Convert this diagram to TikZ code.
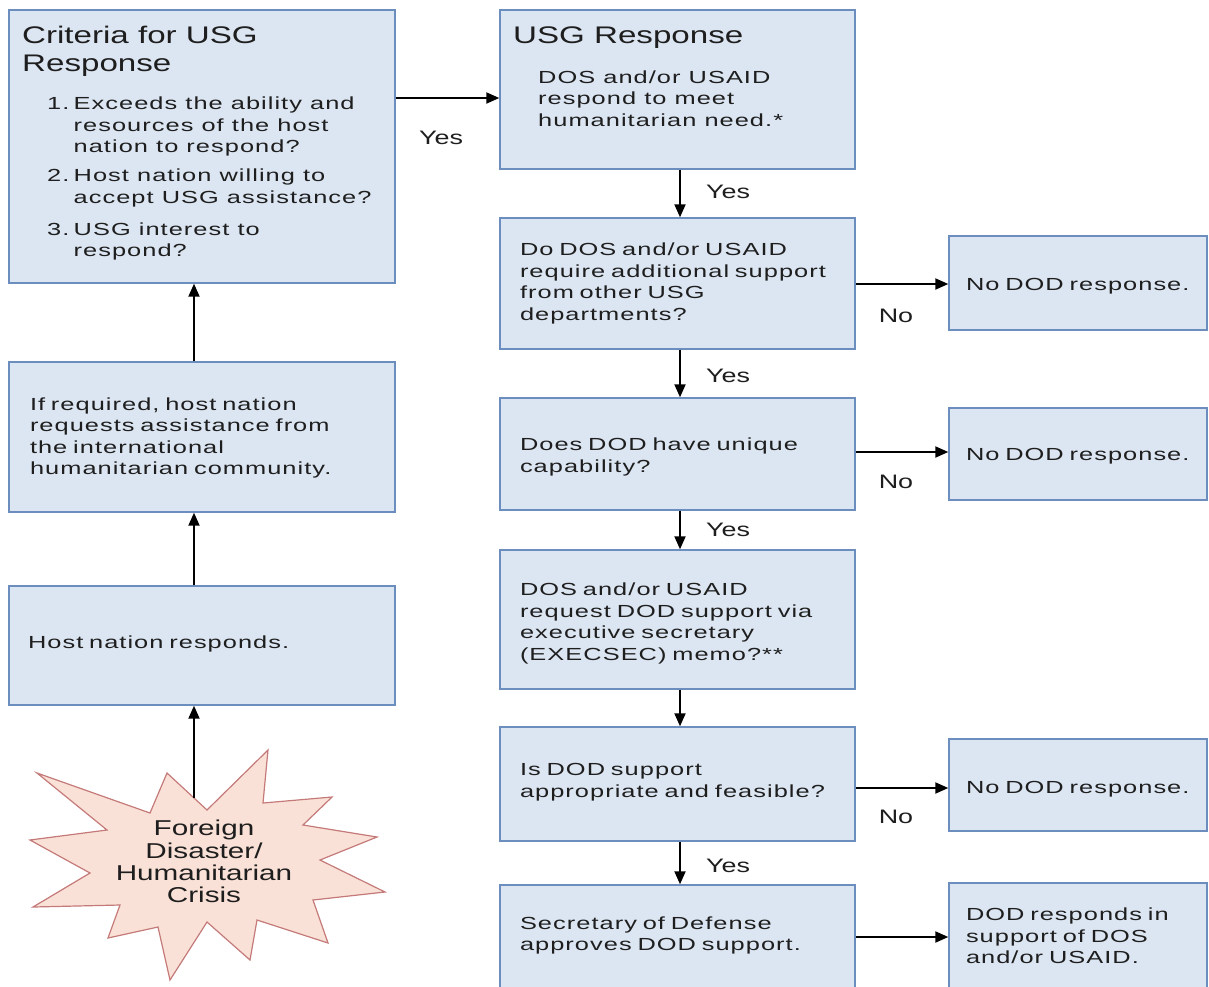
\documentclass[tikz,border=0pt]{standalone}
\usepackage{fontspec}
\setmainfont{Liberation Sans}
\newfontfamily\bodyfont{Liberation Sans}[FakeStretch=1.45,LetterSpace=6]
\newfontfamily\headfont{Liberation Sans}[FakeStretch=1.38]
\usetikzlibrary{arrows.meta}
\definecolor{boxfill}{HTML}{DCE6F2}
\definecolor{boxline}{HTML}{6C8EBF}
\definecolor{burstfill}{HTML}{FAE1D7}
\definecolor{burstline}{HTML}{C47A78}
\definecolor{ink}{HTML}{1E1E1E}
% optional argument: how far (pt) the text block is moved down inside its box
\newcommand\txtblock[2][0pt]{\raisebox{-#1}[\height][\depth]{\begin{tabular}{@{}l@{}}#2\end{tabular}}}
\begin{document}
\begin{tikzpicture}[x=1pt,y=-1pt,
  box/.style={draw=boxline, fill=boxfill, line width=1.4pt, align=left, inner ysep=0pt,
    text=ink, font=\bodyfont\fontsize{17.5}{21.5}\selectfont},
  leftbox/.style={box, minimum width=386pt},
  rightbox/.style={box, minimum width=355pt, inner xsep=20pt, text width=315pt},
  sidebox/.style={box, minimum width=258pt, inner xsep=17pt, text width=224pt},
  arr/.style={line width=2pt, draw=black, -{Triangle[length=13pt,width=11pt]}},
  lbl/.style={text=ink, font=\headfont\fontsize{19.5}{22}\selectfont, inner sep=0pt},
  body/.style={text=ink, font=\bodyfont\fontsize{17.5}{21.5}\selectfont, inner sep=0pt, align=left},
  head/.style={text=ink, font=\headfont\fontsize{24}{27.5}\selectfont, inner sep=0pt, align=left},
]
\useasboundingbox (0,0) rectangle (1209,986);

% ---------- left column ----------
\node[leftbox, minimum height=273pt] (crit) at (202,146.5) {};
\node[head, anchor=north west] (crittitle) at (22,26) {Criteria for USG\\Response};
\node[body, anchor=north west] (critlist) at (47,94.3) {\begin{tabular}{@{}l@{}l@{}}
\makebox[26.5pt][l]{1.} & Exceeds the ability and\\
 & resources of the host\\
 & nation to respond?\\[7.5pt]
2. & Host nation willing to\\
 & accept USG assistance?\\[10.5pt]
3. & USG interest to\\
 & respond?
\end{tabular}};

\node[leftbox, minimum height=150pt, inner xsep=21pt, text width=344pt] (req) at (202,437)
  {\txtblock[1pt]{If required, host nation\\requests assistance from\\the international\\humanitarian community.}};
\node[leftbox, minimum height=119pt, inner xsep=19pt, text width=348pt] (host) at (202,645.5)
  {\txtblock[-1pt]{Host nation responds.}};

% starburst
\draw[draw=burstline, fill=burstfill, line width=1.2pt, line join=miter]
  (37,773) -- (150,813) -- (167,773) -- (207,810) -- (268,750) -- (263,803) -- (332,797)
  -- (303,825) -- (377,837) -- (320,860) -- (385,892) -- (313,900) -- (328,943)
  -- (257,920) -- (250,960) -- (207,922) -- (170,980) -- (158,927) -- (108,938)
  -- (120,905) -- (33,907) -- (90,873) -- (30,840) -- (107,830) -- cycle;
\node[text=ink, font=\headfont\fontsize{21.5}{22.3}\selectfont, align=center, inner sep=0pt]
  (burst) at (204,861.5) {Foreign\\Disaster/\\Humanitarian\\Crisis};
\coordinate (bursttop) at (194,798);

% ---------- right column ----------
\node[box, minimum width=355pt, minimum height=159pt] (usg) at (677.5,89.5) {};
\node[head, anchor=base west] (usgtitle) at (513,43.3) {USG Response};
\node[body, anchor=west] (usgtext) at (538,100.5)
  {\txtblock{DOS and/or USAID\\respond to meet\\humanitarian need.*}};

\node[rightbox, minimum height=131pt] (q1) at (677.5,283.5)
  {\txtblock{Do DOS and/or USAID\\require additional support\\from other USG\\departments?}};
\node[rightbox, minimum height=112pt] (q2) at (677.5,454)
  {\txtblock[3pt]{Does DOD have unique\\capability?}};
\node[rightbox, minimum height=139pt] (memo) at (677.5,619.5)
  {\txtblock[4pt]{DOS and/or USAID\\request DOD support via\\executive secretary\\(EXECSEC) memo?**}};
\node[rightbox, minimum height=114pt] (feas) at (677.5,784)
  {\txtblock[-2pt]{Is DOD support\\appropriate and feasible?}};
\node[rightbox, minimum height=104pt] (secdef) at (677.5,937)
  {\txtblock[-1.5pt]{Secretary of Defense\\approves DOD support.}};

% ---------- side column ----------
\node[sidebox, minimum height=94pt] (no1) at (1078,283) {\txtblock[3pt]{No DOD response.}};
\node[sidebox, minimum height=92pt] (no2) at (1078,454) {\txtblock[2pt]{No DOD response.}};
\node[sidebox, minimum height=92pt] (no3) at (1078,785) {\txtblock[4pt]{No DOD response.}};
\node[sidebox, minimum height=106pt] (dod) at (1078,936)
  {\txtblock[2pt]{DOD responds in\\support of DOS\\and/or USAID.}};

% ---------- connectors ----------
\coordinate (lx) at (194,0);
\coordinate (rx) at (680,0);
\coordinate (r0) at (0,98);
\coordinate (r1) at (0,284);
\coordinate (r2) at (0,452);
\coordinate (r3) at (0,788);
\coordinate (r4) at (0,937);

\draw[arr] (bursttop) -- (host.south -| lx);
\draw[arr] (host.north -| lx) -- (req.south -| lx);
\draw[arr] (req.north -| lx) -- (crit.south -| lx);
\draw[arr] (crit.east |- r0) -- (usg.west |- r0);

\draw[arr] (usg.south -| rx) -- (q1.north -| rx);
\draw[arr] (q1.south -| rx) -- (q2.north -| rx);
\draw[arr] (q2.south -| rx) -- (memo.north -| rx);
\draw[arr] (memo.south -| rx) -- (feas.north -| rx);
\draw[arr] (feas.south -| rx) -- (secdef.north -| rx);

\draw[arr] (q1.east |- r1) -- (no1.west |- r1);
\draw[arr] (q2.east |- r2) -- (no2.west |- r2);
\draw[arr] (feas.east |- r3) -- (no3.west |- r3);
\draw[arr] (secdef.east |- r4) -- (dod.west |- r4);

% ---------- labels ----------
\node[lbl] (yes0) at (441,138) {Yes};
\node[lbl] (yes1) at (728,192) {Yes};
\node[lbl] (yes2) at (728,376) {Yes};
\node[lbl] (yes3) at (728,530) {Yes};
\node[lbl] (yes4) at (728,866) {Yes};
\node[lbl] (noa) at (896,316) {No};
\node[lbl] (nob) at (896,482) {No};
\node[lbl] (noc) at (896,817) {No};
\end{tikzpicture}
\end{document}
